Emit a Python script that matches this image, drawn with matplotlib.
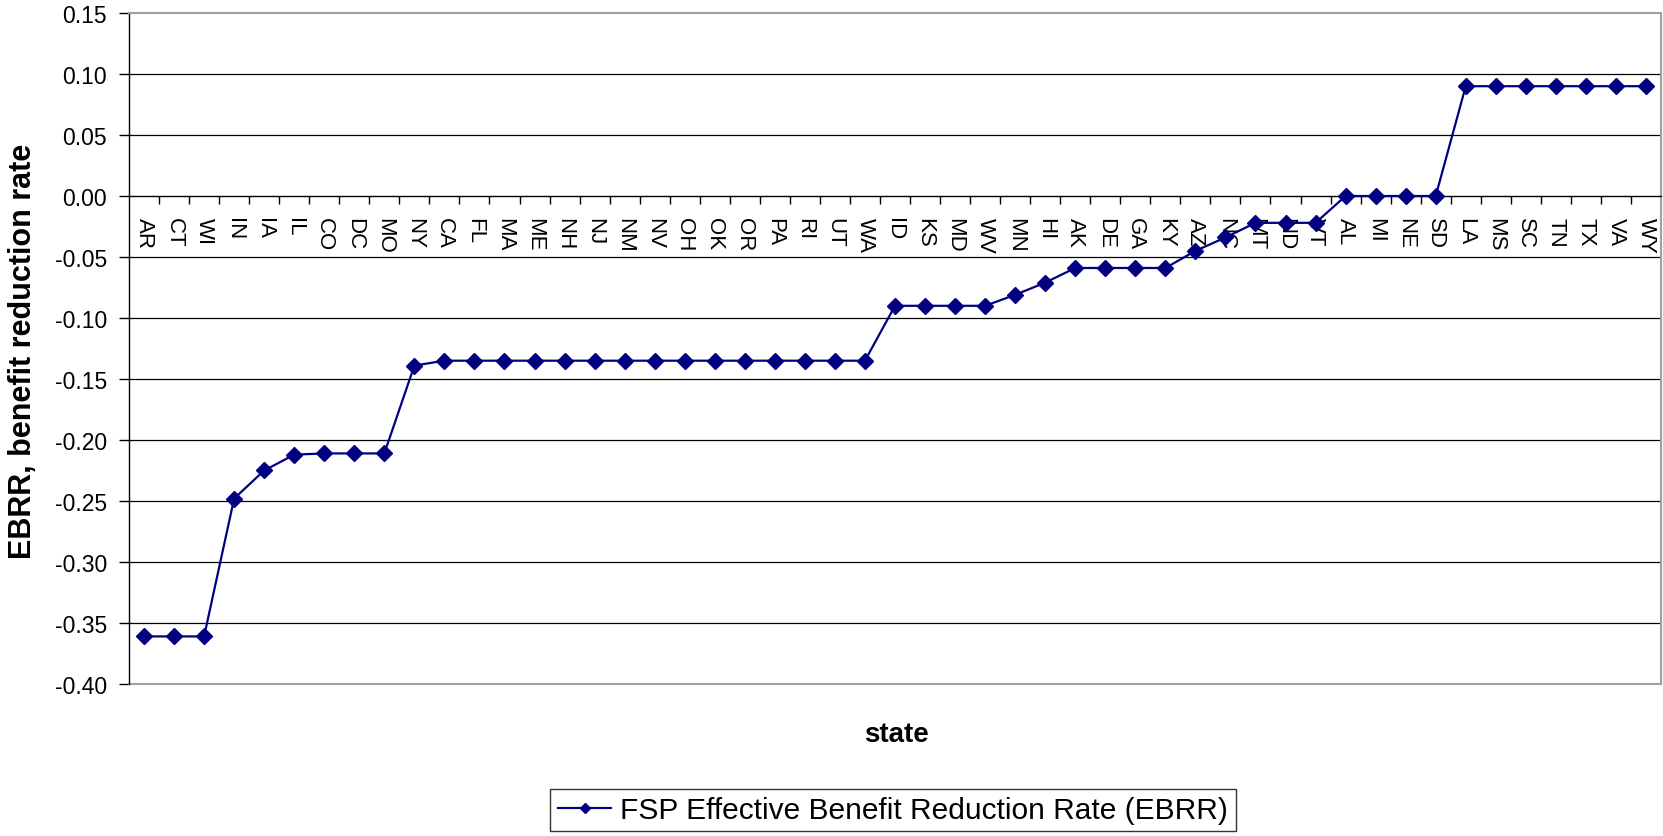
import matplotlib
matplotlib.use("Agg")
import matplotlib.pyplot as plt
import numpy as np

# states, sorted by effective benefit reduction rate
states = ["AR", "CT", "WI", "IN", "IA", "IL", "CO", "DC", "MO", "NY",
          "CA", "FL", "MA", "ME", "NH", "NJ", "NM", "NV", "OH", "OK",
          "OR", "PA", "RI", "UT", "WA", "ID", "KS", "MD", "WV", "MN",
          "HI", "AK", "DE", "GA", "KY", "AZ", "NC", "MT", "ND", "VT",
          "AL", "MI", "NE", "SD", "LA", "MS", "SC", "TN", "TX", "VA", "WY"]

# EBRR values
ebrr = [-0.361, -0.361, -0.361, -0.248, -0.225, -0.212, -0.211, -0.211, -0.211, -0.139,
        -0.135, -0.135, -0.135, -0.135, -0.135, -0.135, -0.135, -0.135, -0.135, -0.135,
        -0.135, -0.135, -0.135, -0.135, -0.135, -0.090, -0.090, -0.090, -0.090, -0.081,
        -0.071, -0.059, -0.059, -0.059, -0.059, -0.045, -0.034, -0.022, -0.022, -0.022,
        0.000, 0.000, 0.000, 0.000, 0.090, 0.090, 0.090, 0.090, 0.090, 0.090, 0.090]

y_ticks = [-0.40, -0.35, -0.30, -0.25, -0.20, -0.15, -0.10, -0.05, 0.00, 0.05, 0.10, 0.15]

plt.rcParams["font.family"] = ["Liberation Sans", "DejaVu Sans"]

fig = plt.figure(figsize=(16.63, 8.37), dpi=100)
ax = fig.add_axes([129 / 1663, 1 - 685 / 837, 1532 / 1663, 671 / 837])

x = np.arange(len(states))

# horizontal gridlines
for t in y_ticks[1:-1]:
    if t != 0:
        ax.axhline(t, color="black", lw=0.9, zorder=1)

# the series
line, = ax.plot(x, ebrr, color="#000080", lw=1.6, marker="D", markersize=8,
                markeredgecolor="#000080", zorder=3,
                label="FSP Effective Benefit Reduction Rate (EBRR)")

ax.set_xlim(-0.5, len(states) - 0.5)
ax.set_ylim(-0.40, 0.15)

# y axis
ax.set_yticks(y_ticks)
ax.set_yticklabels(["%.2f" % t for t in y_ticks], fontsize=16.5)
ax.tick_params(axis="y", direction="out", length=7, width=1, pad=9)

# x axis sits at zero, ticks between categories
ax.spines["bottom"].set_position(("data", 0))
ax.spines["bottom"].set_color("black")
ax.spines["bottom"].set_linewidth(1)
ax.set_xticks(x)
ax.set_xticklabels(states, rotation=-90, fontsize=16, ha="center", va="top")
ax.set_xticks(x[:-1] + 0.5, minor=True)
ax.tick_params(axis="x", which="major", length=0, pad=15)
ax.tick_params(axis="x", which="minor", direction="out", length=6, width=1)

# plot area border
ax.spines["left"].set_color("black")
ax.spines["left"].set_linewidth(1)
ax.spines["top"].set_color("#a0a0a0")
ax.spines["right"].set_color("#a0a0a0")
ax.spines["top"].set_linewidth(1.5)
ax.spines["right"].set_linewidth(1.5)
ax.axhline(-0.40, color="#a0a0a0", lw=1.5, zorder=2, clip_on=False)

# axis titles
fig.text(23.5 / 1663, 1 - 351 / 837, "EBRR, benefit reduction rate", rotation=90,
         fontsize=22, fontweight="bold", ha="center", va="center")
fig.text(896 / 1663, 1 - 735 / 837, "state", fontsize=20, fontweight="bold",
         ha="center", va="center")

# legend
leg = fig.legend(handles=[line], loc="center", bbox_to_anchor=(893 / 1663, 1 - 811 / 837),
                 fontsize=21.5, frameon=True, fancybox=False, edgecolor="black",
                 handlelength=1.8, handletextpad=0.3, borderpad=0.25, markerscale=0.6)
leg.get_frame().set_linewidth(1)

fig.savefig("out.png", dpi=100, facecolor="white")
